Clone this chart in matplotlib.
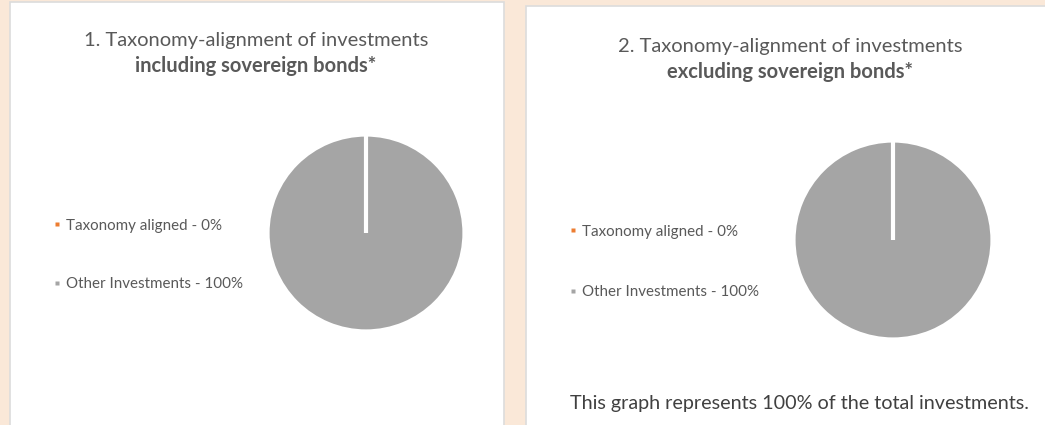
import matplotlib.pyplot as plt
from matplotlib.patches import Rectangle
from matplotlib.lines import Line2D

plt.rcParams['font.family'] = ['Lato', 'DejaVu Sans']

# data
labels = ["Taxonomy aligned", "Other Investments"]
incl_sovereign = [0, 100]
excl_sovereign = [0, 100]
colors = ["#ED7D31", "#A5A5A5"]
titles = [("1. Taxonomy-alignment of investments", "including sovereign bonds*"),
          ("2. Taxonomy-alignment of investments", "excluding sovereign bonds*")]
footer = "This graph represents 100% of the total investments."

W, H = 1045, 425
fig = plt.figure(figsize=(W / 100, H / 100), dpi=100)
fig.patch.set_facecolor("#FAE8D8")
txt = "#595959"


def px(x, y):
    # pixel (from top-left) -> figure coords
    return x / W, 1 - y / H


def panel(x0, y0, x1, y1):
    fig.patches.append(Rectangle(px(x0, y1), (x1 - x0) / W, (y1 - y0) / H,
                                 transform=fig.transFigure, facecolor="white",
                                 edgecolor="#DCDCDC", linewidth=1.2, zorder=-5))


def draw(values, title, cx, cy, r, tx, ty, lx, ly, spacing):
    fig.text(*px(tx, ty), title[0], ha="center", va="baseline", fontsize=14.5, color=txt)
    fig.text(*px(tx, ty + 26.5), title[1], ha="center", va="baseline", fontsize=14.5,
             color=txt, fontweight="bold")
    ax = fig.add_axes([(cx - r) / W, 1 - (cy + r) / H, 2 * r / W, 2 * r / H])
    ax.patch.set_alpha(0)
    wedges, _ = ax.pie(values, colors=colors, startangle=90, counterclock=False,
                       wedgeprops=dict(edgecolor="white", linewidth=3))
    wedges[0].set_zorder(5)
    ax.set_xlim(-0.985, 0.985)
    ax.set_ylim(-0.985, 0.985)
    ax.set_aspect("equal")
    handles = [Line2D([], [], linestyle="none", marker="s", markersize=3,
                      markerfacecolor=c, markeredgecolor="none") for c in colors]
    leg_labels = [f"{l} - {v}%" for l, v in zip(labels, values)]
    leg = ax.legend(handles, leg_labels, loc="center left",
                    bbox_to_anchor=px(lx, ly), bbox_transform=fig.transFigure,
                    frameon=False, fontsize=10.9, handlelength=0.4,
                    handletextpad=0.4, labelspacing=spacing, borderpad=0)
    for t in leg.get_texts():
        t.set_color(txt)


panel(10, 2, 504, 430)
panel(526, 6, 1050, 430)

draw(incl_sovereign, titles[0], 366, 233, 97, 256, 46, 46, 255, 2.97)
draw(excl_sovereign, titles[1], 893, 240, 98, 790, 52, 562, 262, 3.1)

fig.text(*px(570, 403), footer, ha="left", va="center", fontsize=14.2, color="#404040")

plt.savefig("out.png", dpi=100)
